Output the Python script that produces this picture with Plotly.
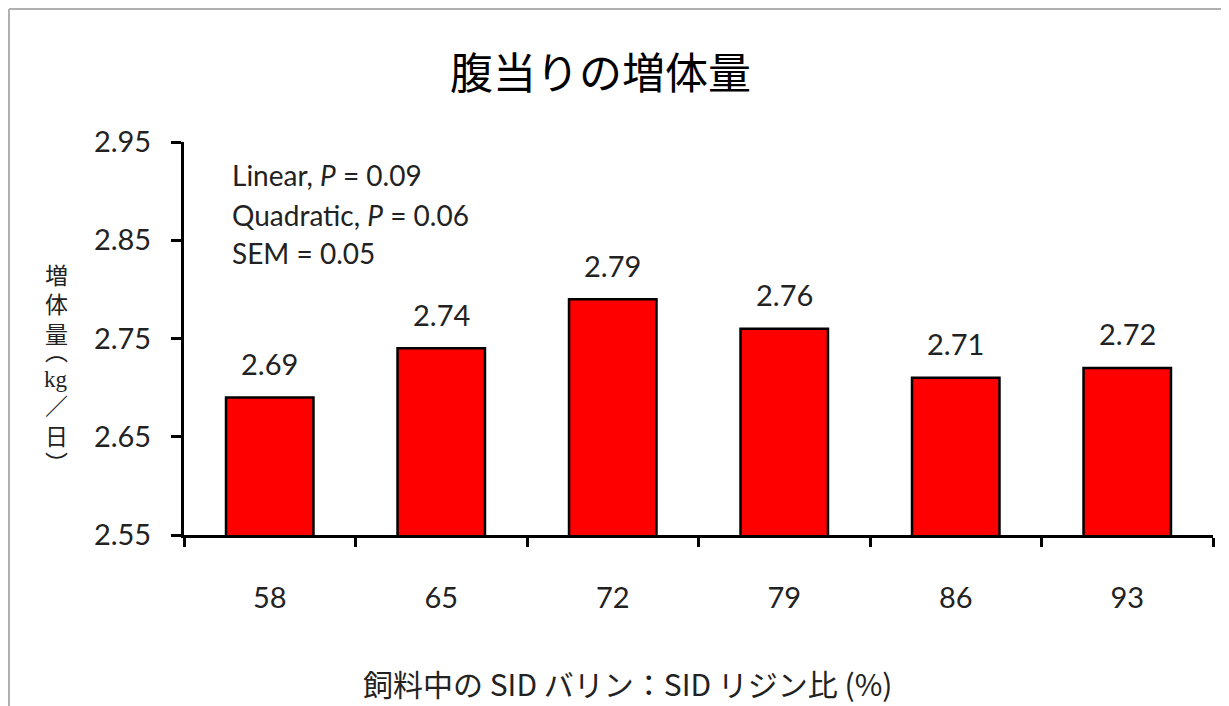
import plotly.graph_objects as go

# data
ratios = ['58', '65', '72', '79', '86', '93']
gain = [2.69, 2.74, 2.79, 2.76, 2.71, 2.72]
stats_lines = ['Linear, <i>P</i> = 0.09', 'Quadratic, <i>P</i> = 0.06', 'SEM = 0.05']

title_text = '腹当りの増体量'
x_title = '飼料中の SID バリン：SID リジン比 (%)'
# vertical y title, one glyph (or run) per line
y_title_parts = ['増', '体', '量', '︵', 'kg', '／', '日', '︶']

latin = 'Lato, "Open Sans", sans-serif'
cjk = '"Noto Sans CJK JP", sans-serif'

# the page puts the figure 8px in from the top-left; plot area kept at
# x 184..1213, y 142..535 of the window
PL, PT, PB, PW = 184, 142, 535, 1029


def px_x(x):
    return (x - PL) / PW


def px_y(y):
    return (PB - y) / (PB - PT)


fig = go.Figure()
fig.add_trace(go.Bar(
    x=ratios, y=gain,
    marker=dict(color='#ff0000', line=dict(color='black', width=2.5)),
    width=0.51,
    cliponaxis=False,
))

# value labels above the bars (x given as category index)
for i, v in enumerate(gain):
    fig.add_annotation(x=i, y=v, text=f'{v:.2f}', showarrow=False,
                       yanchor='middle', yshift=34,
                       font=dict(family=latin, size=29, color='#222222'))

# stats text in upper left
for line, ypix in zip(stats_lines, [175, 215, 253]):
    fig.add_annotation(
        xref='paper', yref='paper', x=px_x(230), y=px_y(ypix),
        text=line, showarrow=False, xanchor='left', yanchor='middle',
        font=dict(family=latin, size=28, color='#222222'))

# stacked y title
for part, ypix in zip(y_title_parts, [274, 303, 333, 350, 379, 405, 435, 462]):
    fam = '"Liberation Serif", serif' if part == 'kg' else cjk
    fig.add_annotation(
        xref='paper', yref='paper', x=px_x(56), y=px_y(ypix),
        text=part, showarrow=False, xanchor='center', yanchor='middle',
        font=dict(family=fam, size=23, color='#222222'))

fig.add_annotation(
    xref='paper', yref='paper', x=px_x(600), y=px_y(70),
    text=title_text, showarrow=False, xanchor='center', yanchor='middle',
    font=dict(family=cjk, size=43, color='black'))

fig.add_annotation(
    xref='paper', yref='paper', x=px_x(627), y=px_y(683),
    text=x_title, showarrow=False, xanchor='center', yanchor='middle',
    font=dict(family=cjk, size=30, color='#222222'))

# gray frame around the picture
fig.add_shape(type='line', xref='paper', yref='paper',
              x0=px_x(9), x1=px_x(1240), y0=px_y(9), y1=px_y(9),
              line=dict(color='#b0b0b0', width=2))
fig.add_shape(type='line', xref='paper', yref='paper',
              x0=px_x(9), x1=px_x(9), y0=px_y(9), y1=px_y(720),
              line=dict(color='#b0b0b0', width=2))

fig.update_layout(
    width=1221, height=698,
    margin=dict(l=PL - 8, r=16, t=PT - 8, b=171),
    paper_bgcolor='white', plot_bgcolor='white',
    showlegend=False,
)
fig.update_xaxes(
    type='category', range=[-0.5, 5.5], tickson='boundaries',
    ticks='outside', ticklen=9, tickangle=0,
    tickwidth=2.5, tickcolor='black', showline=True, linecolor='black',
    linewidth=3, showgrid=False, ticklabelstandoff=35,
    tickfont=dict(family=latin, size=29, color='#222222'))
fig.update_yaxes(
    range=[2.55, 2.95], dtick=0.1, tick0=2.55, tickformat='.2f',
    ticks='outside', ticklen=10, tickwidth=2.5, tickcolor='black',
    showline=True, linecolor='black', linewidth=3, showgrid=False,
    zeroline=False, ticklabelstandoff=14,
    tickfont=dict(family=latin, size=29, color='#222222'))

fig.write_html('out.html')
